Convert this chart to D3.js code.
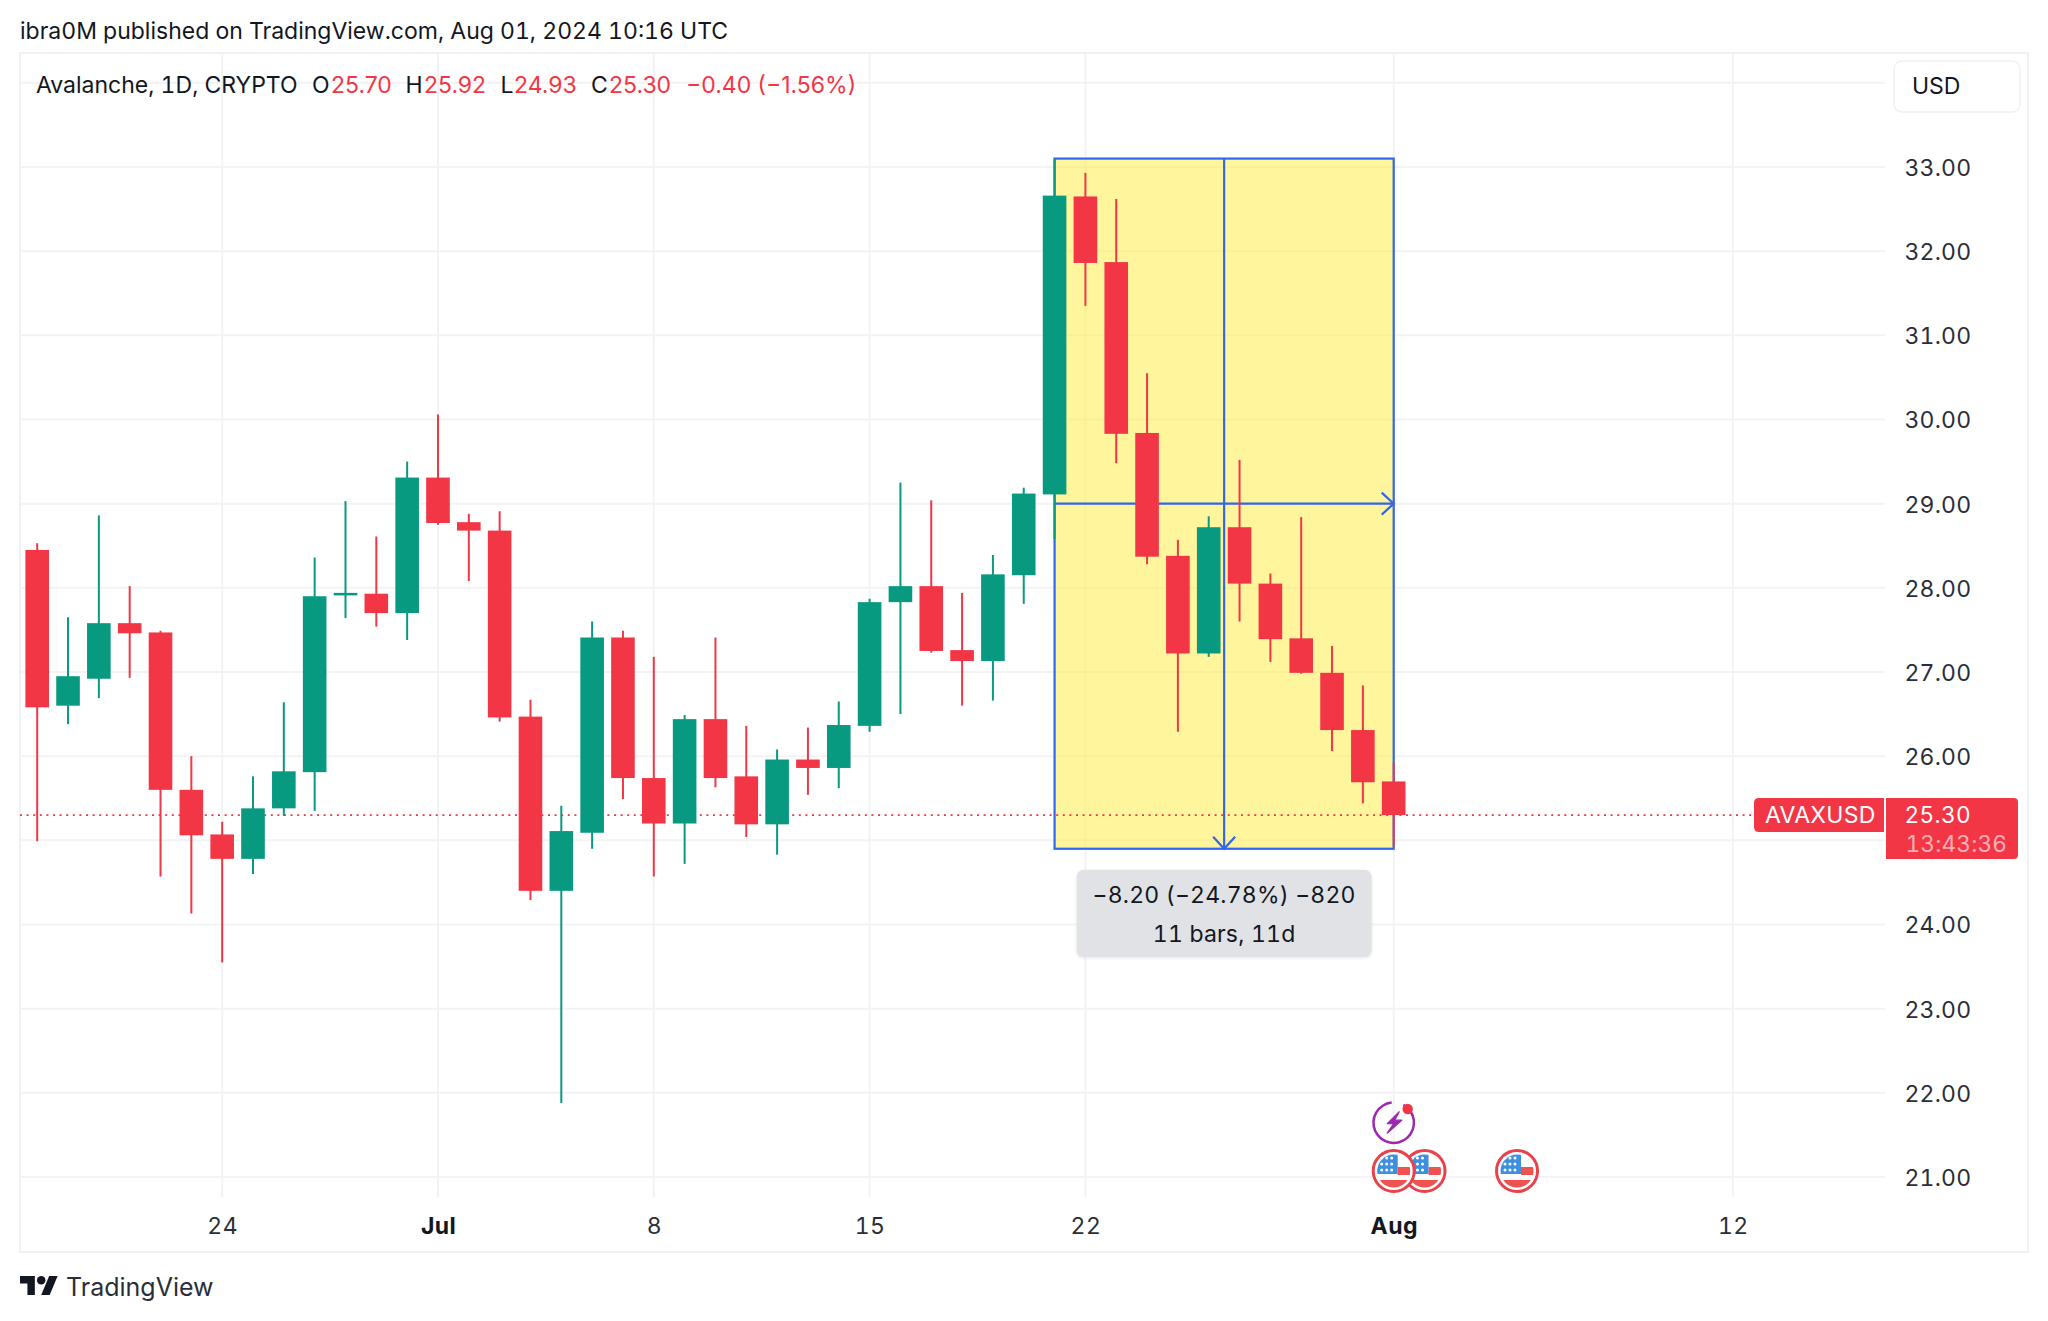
<!DOCTYPE html>
<html><head><meta charset="utf-8">
<script src="https://cdnjs.cloudflare.com/ajax/libs/d3/7.8.5/d3.min.js"></script>
<style>html,body{margin:0;padding:0;background:#fff}svg{display:block}text{font-family:Inter,"Liberation Sans",sans-serif;font-variant-numeric:tabular-nums;font-feature-settings:"tnum" 1}text.prop{font-variant-numeric:normal;font-feature-settings:normal}</style>
</head><body><div id="chart"></div>
<script>
const firstDay = "2024-06-18", lastDay = "2024-08-01";
const opens  = [28.45,26.60,26.92,27.58,27.47,25.60,25.07,24.78,25.38,25.81,27.91,27.93,27.70,29.31,28.78,28.68,26.47,24.40,25.09,27.41,25.74,25.20,26.44,25.76,25.19,25.96,25.86,26.36,27.83,28.02,27.26,27.13,28.15,29.11,32.65,31.87,29.84,28.38,27.22,28.72,28.05,27.40,26.99,26.31,25.70];
const highs  = [28.53,27.65,28.86,28.02,27.49,26.00,25.22,25.76,26.64,28.36,29.03,28.61,29.50,30.06,28.88,28.91,26.67,25.41,27.60,27.49,27.18,26.49,27.41,26.36,26.08,26.34,26.65,27.87,29.25,29.04,27.94,28.39,29.19,33.10,32.93,32.62,30.55,28.57,28.85,29.52,28.17,28.84,27.31,26.84,25.92];
const lows   = [24.99,26.38,26.69,26.93,24.57,24.13,23.55,24.60,25.29,25.35,27.64,27.54,27.38,28.75,28.08,26.41,24.29,21.88,24.90,25.49,24.57,24.72,25.63,25.04,24.83,25.54,25.62,26.29,26.50,27.23,26.60,26.66,27.81,28.58,31.35,29.48,28.28,26.29,27.18,27.60,27.12,26.98,26.06,25.44,24.93];
const closes = [26.58,26.95,27.58,27.46,25.60,25.06,24.78,25.38,25.82,27.90,27.94,27.70,29.31,28.77,28.68,26.46,24.40,25.11,27.41,25.74,25.20,26.44,25.74,25.19,25.96,25.86,26.37,27.83,28.02,27.25,27.13,28.16,29.12,32.66,31.86,29.83,28.37,27.22,28.72,28.05,27.39,26.99,26.31,25.69,25.30];
const priceTicks = [34,33,32,31,30,29,28,27,26,25,24,23,22,21];
const priceLabels = [33,32,31,30,29,28,27,26,25,24,23,22,21];
const timeTicks = ["2024-06-24","2024-07-01","2024-07-08","2024-07-15","2024-07-22","2024-08-01","2024-08-12"];
const timeLabels = ["24","Jul","8","15","22","Aug","12"];
const boldTimeLabels = ["Jul","Aug"];
const measureDates = ["2024-07-21","2024-08-01"];
const measurePrices = [33.10,24.90];
const measureText = ["−8.20 (−24.78%) −820","11 bars, 11d"];
const lastPrice = 25.30;
const eventFlagDates = ["2024-08-02","2024-08-01","2024-08-05"];
const legendParts = [
 ["Avalanche, 1D, CRYPTO",36,"k"],["O",312,"k"],["25.70",331,"r"],["H",405.5,"k"],["25.92",424,"r"],
 ["L",500.5,"k"],["24.93",514,"r"],["C",591,"k"],["25.30",609,"r"],["−0.40 (−1.56%)",686,"r"]];

const W=2048,H=1321,UP="#089981",DOWN="#F23645",INK="#131722",GRID="#f3f3f5",EDGE="#f0f1f4",BLUE="#3366ee";
const p=d3.utcParse("%Y-%m-%d");
const days=d3.utcDay.range(p(firstDay),d3.utcDay.offset(p(lastDay),1));
const bars=days.map((d,i)=>({d,o:opens[i],h:highs[i],l:lows[i],c:closes[i]}));
const x=d3.scaleUtc().domain([p(firstDay),p(lastDay)]).range([37.2,1393.7]);
const y=d3.scaleLinear().domain([33,21]).range([167,1177]);
const PL=20,PR=2028,PT=53,PB=1252,GX=1885,GB=1197;

const svg=d3.select("#chart").append("svg").attr("width",W).attr("height",H).attr("viewBox",`0 0 ${W} ${H}`);
svg.append("rect").attr("width",W).attr("height",H).attr("fill","#fff");

// header
svg.append("text").attr("x",20).attr("y",31).attr("dy","0.36em").attr("fill",INK).attr("font-size",23)
  .text("ibra0M published on TradingView.com, Aug 01, 2024 10:16 UTC");

// frame
svg.append("rect").attr("x",PL).attr("y",PT).attr("width",PR-PL).attr("height",PB-PT).attr("fill","none").attr("stroke",EDGE).attr("stroke-width",2);

// grid
svg.append("g").selectAll("line").data(priceTicks).join("line")
  .attr("x1",PL).attr("x2",GX).attr("y1",d=>y(d)).attr("y2",d=>y(d)).attr("stroke",GRID).attr("stroke-width",2);
svg.append("g").selectAll("line").data(timeTicks).join("line")
  .attr("x1",d=>x(p(d))).attr("x2",d=>x(p(d))).attr("y1",PT).attr("y2",GB).attr("stroke",GRID).attr("stroke-width",2);

// price axis
const yAxis=d3.axisRight(y).tickValues(priceLabels).tickFormat(d3.format(".2f")).tickSize(0).tickPadding(0);
const gy=svg.append("g").attr("transform","translate(1904.5,1)").call(yAxis);
gy.select(".domain").remove();
gy.selectAll("text").attr("font-size",23).attr("letter-spacing",0.2).attr("fill","#2a2e39").attr("font-family","Inter");

// time axis
const xAxis=d3.axisBottom(x).tickValues(timeTicks.map(p)).tickSize(0).tickPadding(0)
  .tickFormat((d,i)=>timeLabels[i]);
const gx=svg.append("g").attr("transform","translate(0,1226)").call(xAxis);
gx.select(".domain").remove();
gx.selectAll("text").attr("dy","0.36em").attr("font-size",23).attr("letter-spacing",0.4).attr("font-family","Inter")
  .attr("font-weight",function(){return boldTimeLabels.includes(this.textContent)?700:400;})
  .attr("fill",function(){return boldTimeLabels.includes(this.textContent)?INK:"#2a2e39";});

// measure box
const bx0=x(p(measureDates[0])),bx1=x(p(measureDates[1])),by0=y(measurePrices[0]),by1=y(measurePrices[1]);
const bmx=(bx0+bx1)/2,bmy=(by0+by1)/2;
svg.append("rect").attr("x",bx0).attr("y",by0).attr("width",bx1-bx0).attr("height",by1-by0).attr("fill","#ffeb3b").attr("fill-opacity",.5);
const mg=svg.append("g").attr("fill","none").attr("stroke",BLUE).attr("stroke-width",2.2);
mg.append("rect").attr("x",bx0).attr("y",by0).attr("width",bx1-bx0).attr("height",by1-by0);
mg.append("line").attr("x1",bmx).attr("x2",bmx).attr("y1",by0).attr("y2",by1);
mg.append("line").attr("x1",bx0).attr("x2",bx1).attr("y1",bmy).attr("y2",bmy);
mg.append("path").attr("d",d3.line()([[bx1-12,bmy-11],[bx1,bmy],[bx1-12,bmy+11]]));
mg.append("path").attr("d",d3.line()([[bmx-11,by1-12],[bmx,by1],[bmx+11,by1-12]]));

// last price line
svg.append("line").attr("x1",PL).attr("x2",1754).attr("y1",y(lastPrice)).attr("y2",y(lastPrice))
  .attr("stroke",DOWN).attr("stroke-width",1.6).attr("stroke-dasharray","2 4.6");

// candles
const colour=b=>b.c>=b.o?UP:DOWN;
const cg=svg.append("g");
cg.selectAll("line").data(bars).join("line")
  .attr("x1",b=>x(b.d)).attr("x2",b=>x(b.d)).attr("y1",b=>y(b.h)).attr("y2",b=>y(b.l))
  .attr("stroke",colour).attr("stroke-width",2);
cg.selectAll("rect").data(bars).join("rect")
  .attr("x",b=>x(b.d)-11.8).attr("width",23.6)
  .attr("y",b=>y(Math.max(b.o,b.c)))
  .attr("height",b=>Math.max(2.5,Math.abs(y(b.o)-y(b.c))))
  .attr("fill",colour);

// measure label
svg.append("defs").append("filter").attr("id","sh").attr("x","-5%").attr("y","-10%").attr("width","110%").attr("height","125%")
  .append("feDropShadow").attr("dx",0).attr("dy",1).attr("stdDeviation",1.5).attr("flood-color","#000").attr("flood-opacity",.1);
svg.append("rect").attr("x",bmx-147.5).attr("y",by1+21).attr("width",295).attr("height",87.5).attr("rx",7)
  .attr("fill","#e0e2e5").attr("filter","url(#sh)");
svg.selectAll(".mt").data(measureText).join("text").attr("class","mt")
  .attr("x",bmx).attr("y",(d,i)=>by1+46+i*39).attr("dy","0.36em").attr("text-anchor","middle")
  .attr("font-size",23).attr("letter-spacing",0.2).attr("fill",INK).text(d=>d);

// legend
svg.selectAll(".lg").data(legendParts).join("text").attr("class",d=>d[2]==="r"?"lg prop":"lg")
  .attr("x",d=>d[1]).attr("y",84.5).attr("dy","0.36em").attr("font-size",23)
  .attr("fill",d=>d[2]==="r"?DOWN:INK).text(d=>d[0]);

// USD button
svg.append("rect").attr("x",1894).attr("y",61).attr("width",126).attr("height",51).attr("rx",8).attr("fill","#fff").attr("stroke",EDGE).attr("stroke-width",1.5);
svg.append("text").attr("x",1912).attr("y",86).attr("dy","0.36em").attr("font-size",23).attr("fill",INK).text("USD");

// price tags
const ly=y(lastPrice);
const tag=(x0,x1,y0,y1,rl,rr)=>`M${x0+rl},${y0}H${x1-rr}Q${x1},${y0} ${x1},${y0+rr}V${y1-rr}Q${x1},${y1} ${x1-rr},${y1}H${x0+rl}Q${x0},${y1} ${x0},${y1-rl}V${y0+rl}Q${x0},${y0} ${x0+rl},${y0}Z`;
svg.append("path").attr("d",tag(1754,1884,ly-17,ly+17,5,0)).attr("fill",DOWN);
svg.append("path").attr("d",tag(1886,2018,ly-17,ly+44,0,4)).attr("fill",DOWN);
svg.append("text").attr("x",1765).attr("y",ly).attr("dy","0.36em").attr("font-size",23).attr("letter-spacing",0.3).attr("fill","#fff").text("AVAXUSD");
const tagText=svg.append("text").attr("font-size",22.6).attr("fill","#fff");
tagText.append("tspan").attr("x",1904.5).attr("y",ly).attr("dy","0.36em").attr("letter-spacing",0.4).text(d3.format(".2f")(lastPrice));
tagText.append("tspan").attr("x",1905.5).attr("y",ly+28.5).attr("dy","0.36em").attr("letter-spacing",0.2).attr("fill-opacity",.62).text("13:43:36");

// event icons
const ex=x(p(lastDay)),ey=1122.7,fy=1171;
const arc=d3.arc().innerRadius(19).outerRadius(21.5).startAngle(0.5).endAngle(Math.PI*2-0.1);
svg.append("path").attr("transform",`translate(${ex},${ey})`).attr("d",arc).attr("fill","#9c27b0");
svg.append("path").attr("transform",`translate(${ex},${ey})`).attr("fill","#9c27b0")
  .attr("d","M5.5,-11 L-6.5,1 L0,1 L-6.5,10.5 L8,-2.5 L1,-2.5 L5.5,-11Z").attr("stroke","#9c27b0").attr("stroke-width",1.2).attr("stroke-linejoin","round");
svg.append("circle").attr("cx",ex+14).attr("cy",ey-13.7).attr("r",5.2).attr("fill",DOWN);

const defs=svg.select("defs");
defs.append("clipPath").attr("id","fc").append("circle").attr("r",16.5);
const starX=[-12,-7,-2,-12,-7,-2,-12,-7,-2],starY=[-13,-13,-13,-7,-7,-7,-1,-1,-1];
eventFlagDates.forEach(ds=>{
  const g=svg.append("g").attr("transform",`translate(${x(p(ds))},${fy})`);
  g.append("circle").attr("r",20.5).attr("fill","#fff").attr("stroke","#e8424c").attr("stroke-width",3);
  const c=g.append("g").attr("clip-path","url(#fc)");
  c.append("rect").attr("x",-17).attr("y",-17).attr("width",34).attr("height",34).attr("fill","#fff");
  c.append("rect").attr("x",4).attr("y",-4).attr("width",14).attr("height",8).attr("fill","#ef5350");
  c.append("rect").attr("x",-17).attr("y",9).attr("width",34).attr("height",8).attr("fill","#ef5350");
  c.append("rect").attr("x",-17).attr("y",-17).attr("width",21).attr("height",20).attr("fill","#3d8fe0");
  g.selectAll("circle.s").data(starX).join("circle").attr("class","s").attr("cx",d=>d).attr("cy",(d,i)=>starY[i]).attr("r",1.5).attr("fill","#fff");
});

// logo
const lg=svg.append("g").attr("transform","translate(20,1271.8) scale(1.06)").attr("fill",INK);
lg.append("path").attr("d","M14 22H7V11H0V4h14v18zM28 22h-8l7.5-18h8L28 22z");
lg.append("circle").attr("cx",20).attr("cy",8).attr("r",4);
svg.append("text").attr("x",66).attr("y",1287).attr("dy","0.36em").attr("font-size",25).attr("fill","#2a2e39").text("TradingView");
</script></body></html>
